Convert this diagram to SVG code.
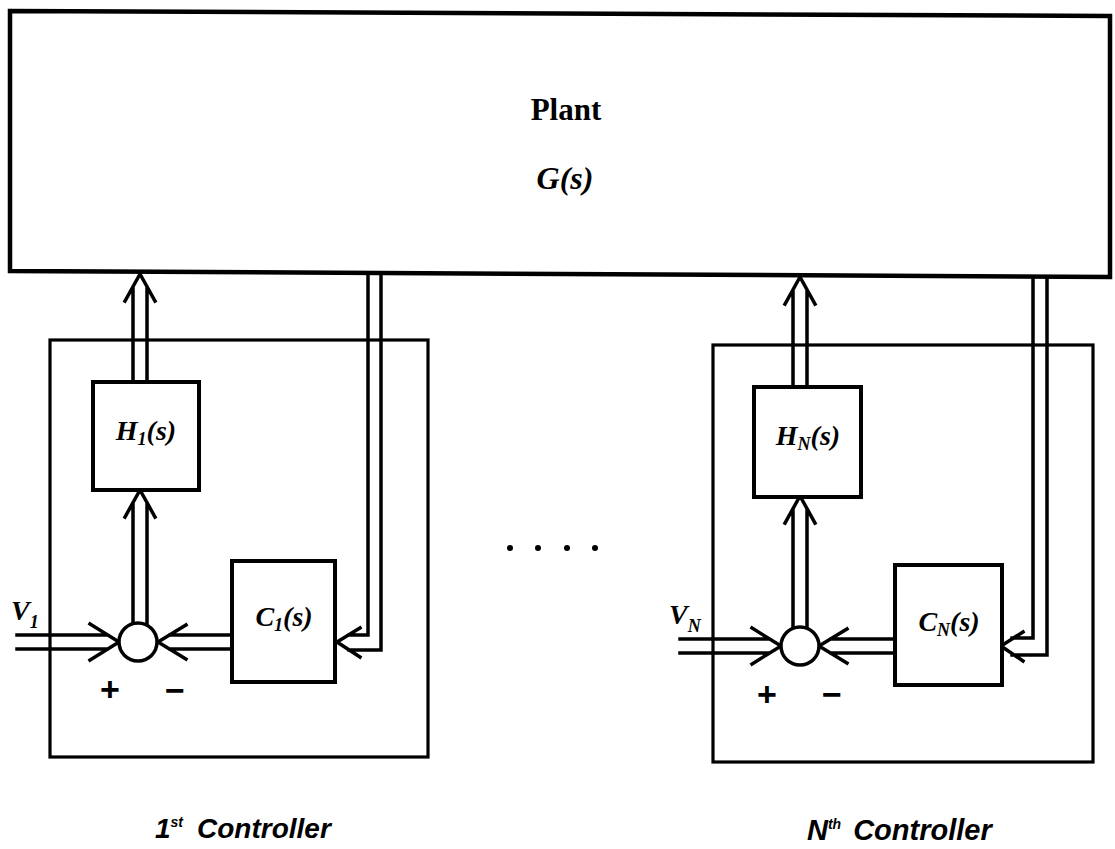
<svg xmlns="http://www.w3.org/2000/svg" width="1115" height="849" viewBox="0 0 1115 849">
<style>
.ln{stroke:#000;stroke-width:3.5;fill:none;stroke-linecap:square}
.bx{stroke:#000;stroke-width:4;fill:#fff}
.thin{stroke:#000;stroke-width:3.2;fill:none}
.m{font-family:"Liberation Serif",serif;font-style:italic;font-weight:bold;fill:#000}
.s{font-family:"Liberation Sans",sans-serif;font-weight:bold;fill:#000}
.c{font-family:"Liberation Sans",sans-serif;font-style:italic;font-weight:bold;fill:#000}
</style>
<rect width="1115" height="849" fill="#fff"/>
<g id="plant">
<polygon points="10,11 1110,16 1110,277 10,271" fill="#fff" stroke="#000" stroke-width="4.5"/>
<text x="566" y="120" text-anchor="middle" font-family="Liberation Serif,serif" font-weight="bold" font-size="31">Plant</text>
<text x="565" y="189" text-anchor="middle" class="m" font-size="32">G(s)</text>
</g>
<g id="controller1">
<rect x="50" y="340" width="378" height="417" class="thin"/>
</g>
<g id="controllerN">
<rect x="713" y="345" width="380" height="417" class="thin"/>
</g>
<g id="connectors">
<g id="conn1">
<path class="ln" d="M133,382 V288 M147,382 V288 M125,301 L140,274 L155,301"/>
<path class="ln" d="M133,623 V504 M147,623 V504 M125,517 L140,490 L155,517"/>
<path class="ln" d="M17,635 H107 M17,649 H107 M90,624 L119,642 L90,660"/>
<path class="ln" d="M232,635 H170 M232,649 H170 M186,625 L158,642 L186,659"/>
<path class="ln" d="M368,274 V635 H349 M381,274 V650 H349 M360,628 L337,642 L360,657"/>
</g>
<g id="connN">
<path class="ln" d="M793,387 V291 M807,387 V291 M785,304 L800,277 L815,304"/>
<path class="ln" d="M793,628 V510 M807,628 V510 M785,523 L800,496 L815,523"/>
<path class="ln" d="M680,639 H768 M680,653 H768 M752,628 L781,646 L752,664"/>
<path class="ln" d="M895,639 H831 M895,653 H831 M847,629 L819,646 L847,663"/>
<path class="ln" d="M1033,277 V638 H1012 M1047,277 V655 H1012 M1023,632 L1001,646 L1023,661"/>
</g>
</g>
<g id="H1">
<rect x="93" y="382" width="106" height="108" class="bx"/>
<text x="146" y="440" text-anchor="middle" class="m" font-size="28">H<tspan font-size="18" dy="5">1</tspan><tspan dy="-5">(s)</tspan></text>
</g>
<g id="C1">
<rect x="232" y="561" width="103" height="121" class="bx"/>
<text x="284" y="626" text-anchor="middle" class="m" font-size="28">C<tspan font-size="18" dy="5">1</tspan><tspan dy="-5">(s)</tspan></text>
</g>
<g id="sum1">
<circle cx="138" cy="642" r="19" fill="#fff" stroke="#000" stroke-width="3.5"/>
<text x="110" y="701" text-anchor="middle" class="s" font-size="34">+</text>
<text x="175" y="702" text-anchor="middle" class="s" font-size="34">−</text>
</g>
<g id="V1">
<text x="11" y="620" class="m" font-size="28">V<tspan font-size="18" dy="8">1</tspan></text>
</g>
<g id="HN">
<rect x="754" y="387" width="107" height="110" class="bx"/>
<text x="808" y="445" text-anchor="middle" class="m" font-size="28">H<tspan font-size="18" dy="5">N</tspan><tspan dy="-5">(s)</tspan></text>
</g>
<g id="CN">
<rect x="895" y="565" width="107" height="120" class="bx"/>
<text x="949" y="631" text-anchor="middle" class="m" font-size="28">C<tspan font-size="18" dy="5">N</tspan><tspan dy="-5">(s)</tspan></text>
</g>
<g id="sumN">
<circle cx="800" cy="646" r="19" fill="#fff" stroke="#000" stroke-width="3.5"/>
<text x="767" y="706" text-anchor="middle" class="s" font-size="34">+</text>
<text x="832" y="706" text-anchor="middle" class="s" font-size="34">−</text>
</g>
<g id="VN">
<text x="669" y="624" class="m" font-size="28">V<tspan font-size="18" dy="8">N</tspan></text>
</g>
<g id="ellipsis">
<circle cx="510" cy="548" r="3"/><circle cx="538" cy="548" r="3"/><circle cx="567" cy="548" r="3"/><circle cx="595" cy="548" r="3"/>
</g>
<g id="label1">
<text x="155" y="838" class="c" font-size="28">1<tspan font-size="14" dy="-11">st</tspan><tspan dy="11" dx="14">Controller</tspan></text>
</g>
<g id="labelN">
<text x="807" y="840" class="c" font-size="29">N<tspan font-size="14" dy="-11">th</tspan><tspan dy="11" dx="12">Controller</tspan></text>
</g>
</svg>
